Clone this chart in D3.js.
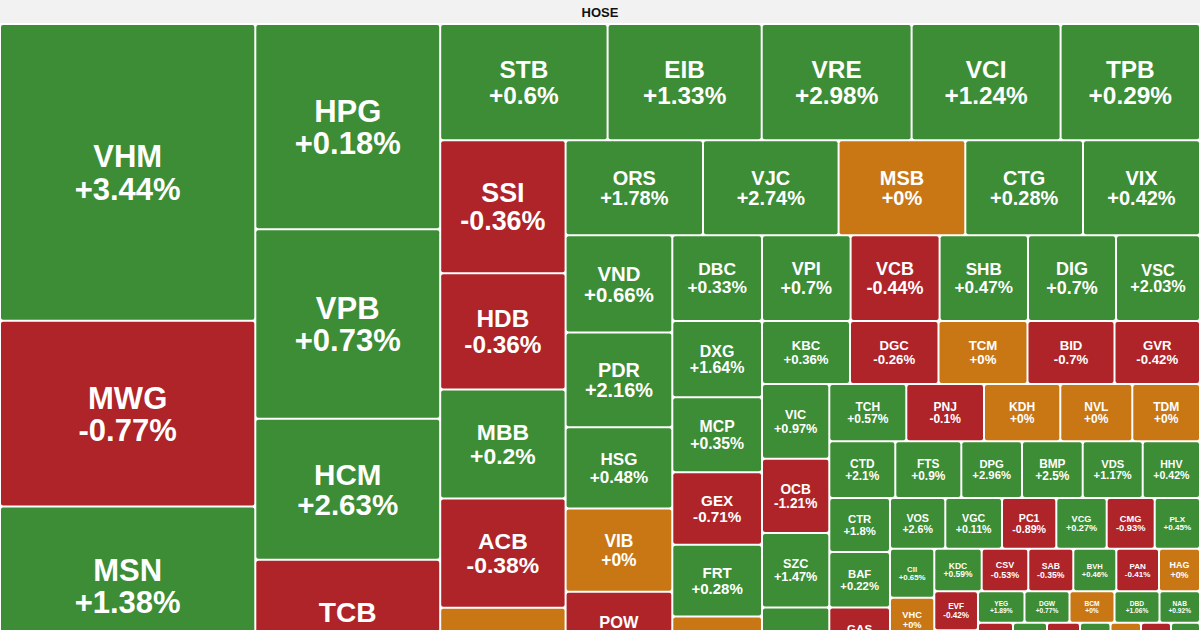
<!DOCTYPE html>
<html>
<head>
<meta charset="utf-8">
<script src="https://cdnjs.cloudflare.com/ajax/libs/d3/7.8.5/d3.min.js"></script>
<style>
  body { margin: 0; background: #fff; }
  svg { display: block; font-family: "Liberation Sans", Arial, Helvetica, sans-serif; }
</style>
</head>
<body>
<svg id="canvas" width="1200" height="630"></svg>
<script>
// one line per strip of the map; "" = tile below the visible frame
let tickers = [
    "VHM", "MWG", "MSN", "",
    "HPG", "VPB", "HCM", "TCB", "",
    "STB", "EIB", "VRE", "VCI", "TPB",
    "SSI", "HDB", "MBB", "ACB", "", "",
    "ORS", "VJC", "MSB", "CTG", "VIX",
    "VND", "PDR", "HSG", "VIB", "POW", "", "",
    "DBC", "VPI", "VCB", "SHB", "DIG", "VSC",
    "DXG", "MCP", "GEX", "FRT", "", "", "",
    "KBC", "DGC", "TCM", "BID", "GVR",
    "VIC", "OCB", "SZC", "", "", "",
    "TCH", "PNJ", "KDH", "NVL", "TDM",
    "CTD", "FTS", "DPG", "BMP", "VDS", "HHV",
    "CTR", "BAF", "GAS", "", "", "",
    "VOS", "VGC", "PC1", "VCG", "CMG", "PLX",
    "CII", "VHC", "", "", "", "",
    "KDC", "CSV", "SAB", "BVH", "PAN", "HAG",
    "EVF", "", "", "", "", "",
    "YEG", "DGW", "BCM", "DBD", "NAB",
    "", "", "", "", "", "", "",
    "", "", "", "", "", "", "", ""
]

// tile size (trading value)
let values = [
    75696, 47358, 40337, 39061,
    37905, 35002, 26015, 24777, 22928,
    19418, 17876, 17388, 17284, 16170,
    16678, 14546, 13669, 13669, 13292, 13042,
    13053, 12882, 12037, 11182, 11115,
    10350, 10104, 8675, 8856, 8323, 7896, 7896,
    7687, 7593, 7627, 7576, 7542, 7199,
    6817, 6728, 6485, 6431, 6100, 6010, 5947,
    5526, 5558, 5589, 5464, 5369,
    5034, 4980, 5007, 4778, 4711, 4664,
    4404, 4444, 4364, 4118, 3872,
    3736, 3736, 3436, 3436, 3396, 3243,
    3278, 3363, 3339, 3156, 3156, 3114,
    2804, 2875, 2753, 2555, 2434, 2297,
    2171, 1949, 1949, 1949, 1949, 1949,
    2015, 1981, 1913, 1828, 1815, 1743,
    1704, 1639, 1639, 1639, 1639, 1639,
    1465, 1418, 1418, 1418, 1276,
    1050, 1020, 990, 915, 915, 900, 870,
    4800, 4700, 4650, 4600, 4550, 4500, 4450, 4380
]

// % change; where the number is cut off only the sign (colour) is known
let changes = [
    3.44, -0.77, 1.38, 0.5,
    0.18, 0.73, 2.63, -0.5, 0.5,
    0.6, 1.33, 2.98, 1.24, 0.29,
    -0.36, -0.36, 0.2, -0.38, 0, 0.5,
    1.78, 2.74, 0, 0.28, 0.42,
    0.66, 2.16, 0.48, 0, -0.5, 0.5, 0.5,
    0.33, 0.7, -0.44, 0.47, 0.7, 2.03,
    1.64, 0.35, -0.71, 0.28, 0, 0.5, 0.5,
    0.36, -0.26, 0, -0.7, -0.42,
    0.97, -1.21, 1.47, 0.5, 0.5, 0.5,
    0.57, -0.1, 0, 0, 0,
    2.1, 0.9, 2.96, 2.5, 1.17, 0.42,
    1.8, 0.22, -0.5, 0.5, 0.5, 0.5,
    2.6, 0.11, -0.89, 0.27, -0.93, 0.45,
    0.65, 0, 0.5, 0.5, 0.5, 0.5,
    0.59, -0.53, -0.35, 0.46, -0.41, 0,
    -0.42, 0.5, 0.5, 0.5, 0.5, 0.5,
    1.89, 0.77, 0, 1.06, 0.92,
    -0.5, 0.5, -0.5, 0.5, 0, -0.5, 0.5,
    0.5, 0.5, 0.5, 0.5, 0.5, 0.5, 0.5, 0.5
]

// how the tiles are grouped: tiles per strip, v = column at the left, h = row on top
let stripSizes = [4, 5, 5, 6, 5, 7, 6, 7, 5, 6, 5, 6, 6, 6, 6, 6, 6, 5, 7, 8]
let stripDirs = ["v", "v", "h", "v", "h", "v", "h", "v", "h", "v", "h", "h", "v", "h", "v", "h", "v", "h", "h", "v"]

let width = 1200
let height = 630
let headerH = 23
let mapH = 794 // whole map, the bottom runs past the picture
let mapTop = headerH + 1

let svg = d3.select('#canvas')

let color = (c) => {
    if (c > 0) return '#3c8d35'
    if (c < 0) return '#ae2428'
    return '#c97714'
}
let fmt = (c) => (c < 0 ? '' : '+') + c + '%'

// header
svg.append('rect')
   .attr('width', width)
   .attr('height', headerH)
   .attr('fill', '#f2f2f2')
svg.append('text')
   .attr('x', width / 2)
   .attr('y', 17)
   .attr('text-anchor', 'middle')
   .attr('font-size', 13)
   .attr('font-weight', 'bold')
   .attr('fill', '#111')
   .text('HOSE')

let data = tickers.map((t, i) => ({ name: t, value: values[i], change: changes[i] }))
let root = d3.hierarchy({ children: data }).sum(d => d.value)

// strips laid out with d3's own dice / slice
let stripTile = (parent, x0, y0, x1, y1) => {
    let nodes = parent.children
    let value = parent.value
    let i = 0
    stripSizes.forEach((n, k) => {
        let row = { children: nodes.slice(i, i + n) }
        row.value = d3.sum(row.children, d => d.value)
        if (stripDirs[k] === 'h') {
            d3.treemapDice(row, x0, y0, x1, y0 += (y1 - y0) * row.value / value)
        } else {
            d3.treemapSlice(row, x0, y0, x0 += (x1 - x0) * row.value / value, y1)
        }
        value -= row.value
        i += n
    })
}

d3.treemap()
  .tile(stripTile)
  .size([width, mapH])
  .paddingInner(2)
  .paddingOuter(1)(root)

let cells = svg.append('g')
   .attr('transform', `translate(0,${mapTop})`)
   .selectAll('g')
   .data(root.leaves())
   .enter()
   .append('g')
   .attr('transform', d => `translate(${d.x0},${d.y0})`)

cells.append('rect')
     .attr('width', d => d.x1 - d.x0)
     .attr('height', d => d.y1 - d.y0)
     .attr('rx', 2)
     .attr('fill', d => color(d.data.change))

// labels: ticker + change, size follows the tile
cells.filter(d => d.data.name).each(function (d) {
    let g = d3.select(this)
    let w = d.x1 - d.x0
    let h = d.y1 - d.y0
    let lines = [d.data.name, fmt(d.data.change)]
    let probe = g.append('text').attr('font-size', 10).attr('font-weight', 'bold')
    let em = d3.max(lines, s => {
        probe.text(s)
        return probe.node().getComputedTextLength() / 10
    })
    probe.remove()
    let f = Math.min(31, 0.21 * (h + 2), (0.72 * (w + 2) - 5) / em)
    lines.forEach((s, k) => {
        let c = h / 2 + (k ? 0.52 : -0.52) * f
        if (mapTop + d.y0 + c - 0.36 * f > height) return // line is below the frame
        g.append('text')
         .attr('x', w / 2)
         .attr('y', c + 0.36 * f)
         .attr('text-anchor', 'middle')
         .attr('font-size', f)
         .attr('font-weight', 'bold')
         .attr('fill', '#fff')
         .text(s)
    })
})
</script>
</body>
</html>
